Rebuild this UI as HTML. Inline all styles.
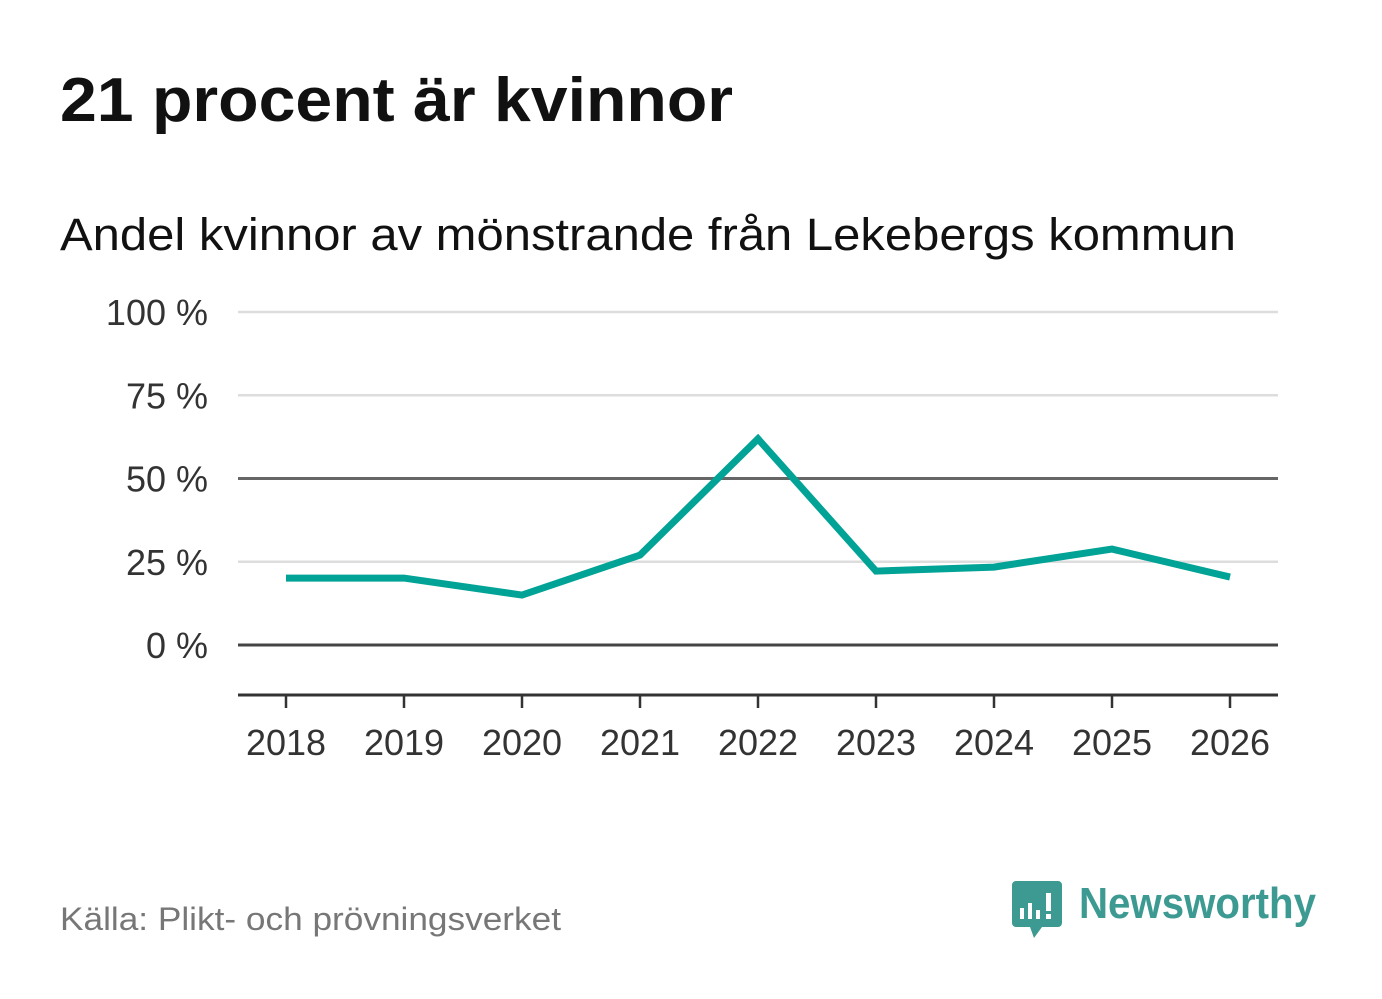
<!DOCTYPE html>
<html><head><meta charset="utf-8"><style>
body{margin:0;background:#fff;width:1382px;height:999px;overflow:hidden;font-family:"Liberation Sans",sans-serif}
</style></head><body>
<svg width="1382" height="999" style="position:absolute;left:0;top:0">
<text x="60" y="121" font-size="62" font-weight="bold" fill="#111" textLength="673" lengthAdjust="spacingAndGlyphs">21 procent är kvinnor</text>
<text x="60" y="250" font-size="45" fill="#111" textLength="1176" lengthAdjust="spacingAndGlyphs">Andel kvinnor av mönstrande från Lekebergs kommun</text>
<g id="grid"></g><g id="xaxis"></g><g id="series"></g>
<text x="60" y="930" font-size="32" fill="#777" textLength="501" lengthAdjust="spacingAndGlyphs">Källa: Plikt- och prövningsverket</text>
<g>
<path d="M1016 881 h42 a4 4 0 0 1 4 4 v38 a4 4 0 0 1 -4 4 h-16 l-8 11 l-4 -11 h-14 a4 4 0 0 1 -4 -4 v-38 a4 4 0 0 1 4 -4z" fill="#3d9a92"/>
<rect x="1020" y="908" width="4" height="11" fill="#fff"/><rect x="1028" y="903" width="4" height="16" fill="#fff"/><rect x="1036" y="910" width="4" height="9" fill="#fff"/><rect x="1046" y="893" width="5" height="18" fill="#fff"/><rect x="1046" y="914" width="5" height="5" fill="#fff"/>
<text x="1079" y="918" font-size="44" font-weight="bold" fill="#3d9a92" textLength="237" lengthAdjust="spacingAndGlyphs">Newsworthy</text>
</g>
</svg>
<script>
const years=["2018","2019","2020","2021","2022","2023","2024","2025","2026"];
const values=[20.1,20.1,15,27,61.9,22.2,23.4,28.8,20.4];
const yTicks=[0,25,50,75,100];
const yTickLabels=["0 %","25 %","50 %","75 %","100 %"];
const NS="http://www.w3.org/2000/svg";
const x=i=>286+i*118;
const y=v=>645-v*3.33;
function mk(tag,attrs,parent){const e=document.createElementNS(NS,tag);for(const k in attrs)e.setAttribute(k,attrs[k]);parent.appendChild(e);return e;}
const grid=document.getElementById('grid');
yTicks.forEach((t,i)=>{
 const col=t===0?'#444':(t===50?'#666':'#ddd');
 const l=mk('line',{x1:238,x2:1278,y1:y(t),y2:y(t),stroke:col,'stroke-width':t===0||t===50?3:2.5},grid);
 
 
 const tx=mk('text',{x:208,y:y(t)+13,'font-size':36,'text-anchor':'end',fill:'#333'},grid);
 tx.textContent=yTickLabels[i];
 
 
});
const xa=document.getElementById('xaxis');
const ax=mk('line',{x1:238,x2:1278,y1:695,y2:695,stroke:'#333','stroke-width':3},xa);


years.forEach((yr,i)=>{
 const tk=mk('line',{x1:x(i),x2:x(i),y1:695,y2:708,stroke:'#333','stroke-width':2.5},xa);
 
 
 const tx=mk('text',{x:x(i),y:755,'font-size':36,'text-anchor':'middle',fill:'#333'},xa);
 tx.textContent=yr;
 
 
});
const pl=mk('polyline',{points:values.map((v,i)=>x(i)+','+y(v)).join(' '),fill:'none',stroke:'#00a396','stroke-width':7,'stroke-linejoin':'miter'},document.getElementById('series'));


</script>
</body></html>
